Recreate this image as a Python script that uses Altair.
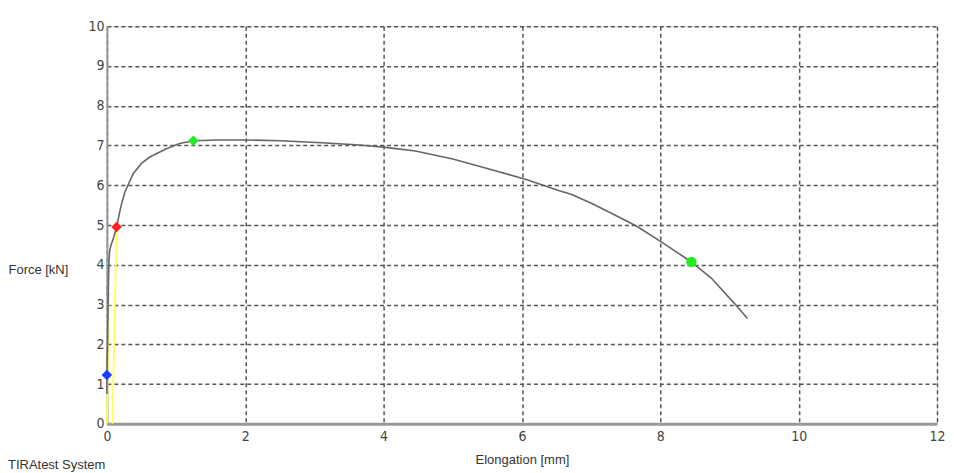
import altair as alt
import pandas as pd

# Force-elongation curve (mm, kN)
curve_x = [0.0, 0.0, 0.01, 0.02, 0.03, 0.04, 0.06, 0.10, 0.14, 0.20, 0.26, 0.38, 0.50, 0.62,
           0.86, 1.05, 1.25, 1.60, 2.00, 2.50, 3.10, 3.60, 4.00, 4.46, 5.00, 5.42, 6.05,
           6.53, 6.72, 7.01, 7.30, 7.66, 8.02, 8.45, 8.74, 9.07, 9.26]
curve_y = [0.75, 1.23, 2.00, 3.30, 4.10, 4.35, 4.50, 4.70, 4.95, 5.45, 5.83, 6.29, 6.55, 6.71,
           6.92, 7.05, 7.12, 7.14, 7.14, 7.12, 7.07, 7.02, 6.96, 6.86, 6.66, 6.46, 6.15,
           5.87, 5.77, 5.54, 5.29, 4.97, 4.57, 4.07, 3.66, 3.03, 2.65]

# Yellow elastic / offset lines
yl_id = ["a", "a", "b", "b"]
yl_x = [0.0, 0.03, 0.08, 0.14]
yl_y = [0.0, 3.30, 0.0, 4.95]

# Characteristic points
pt_x = [0.0, 0.14, 1.25, 8.45]
pt_y = [1.23, 4.95, 7.12, 4.07]
pt_color = ["#1a3cff", "#ff2020", "#22ee22", "#22ee22"]
pt_shape = ["diamond", "diamond", "diamond", "circle"]

x_ticks = [0, 2, 4, 6, 8, 10, 12]
y_ticks = [0, 1, 2, 3, 4, 5, 6, 7, 8, 9, 10]

FONT = "DejaVu Sans Condensed, Liberation Sans Narrow, Arial Narrow, sans-serif"
TFONT = "Liberation Sans, Arial, sans-serif"

df_curve = pd.DataFrame({"x": curve_x, "y": curve_y, "o": list(range(len(curve_x)))})
df_yl = pd.DataFrame({"id": yl_id, "x": yl_x, "y": yl_y})
df_pt = pd.DataFrame({"x": pt_x, "y": pt_y, "c": pt_color, "s": pt_shape})

xscale = alt.Scale(domain=[0, 12], nice=False, zero=True)
yscale = alt.Scale(domain=[0, 10], nice=False, zero=True)

xaxis = alt.Axis(values=x_ticks, format="d", title="Elongation [mm]", grid=True,
                 gridDash=[4, 3], gridColor="#555555", gridWidth=1.5,
                 domainColor="#999999", domainWidth=3, ticks=False, labelFlush=False,
                 labelPadding=6, labelFontSize=14, labelColor="#444444",
                 labelFont=FONT, titleFont=TFONT, titleFontSize=13,
                 titleFontWeight="normal", titleColor="#333333", titlePadding=10)
yaxis = alt.Axis(values=y_ticks, format="d", title="Force [kN]", grid=True,
                 gridDash=[4, 3], gridColor="#555555", gridWidth=1.5,
                 domainColor="#999999", domainWidth=2, ticks=False, labelFlush=False,
                 labelPadding=3, labelFontSize=14, labelColor="#444444",
                 labelFont=FONT, titleFont=TFONT, titleFontSize=13,
                 titleFontWeight="normal", titleColor="#333333",
                 titleAngle=0, titleAlign="left", titleBaseline="middle",
                 titleX=-99, titleY=244)


def X():
    return alt.X("x:Q", scale=xscale, axis=xaxis)


def Y():
    return alt.Y("y:Q", scale=yscale, axis=yaxis)


yellow = alt.Chart(df_yl).mark_line(color="#ffff55", strokeWidth=1.8).encode(
    x=X(), y=Y(), detail="id:N")

line = alt.Chart(df_curve).mark_line(color="#666666", strokeWidth=1.6).encode(
    x=X(), y=Y(), order="o:Q")

points = alt.Chart(df_pt).mark_point(filled=True, size=110, opacity=1).encode(
    x=X(), y=Y(),
    color=alt.Color("c:N", scale=None), shape=alt.Shape("s:N", scale=None))

label = alt.Chart(pd.DataFrame({"t": ["TIRAtest System"]})).mark_text(
    align="left", baseline="middle", fontSize=13, color="#333333", font=TFONT).encode(
    x=alt.value(-99), y=alt.value(439), text="t:N")

chart = alt.layer(yellow, line, points, label).properties(
    width=831, height=398,
    padding={"left": 0, "top": 11, "right": 0, "bottom": 0},
).configure_view(stroke=None).configure(background="white")

chart.save("out.html", embed_options={"renderer": "svg", "actions": False})
